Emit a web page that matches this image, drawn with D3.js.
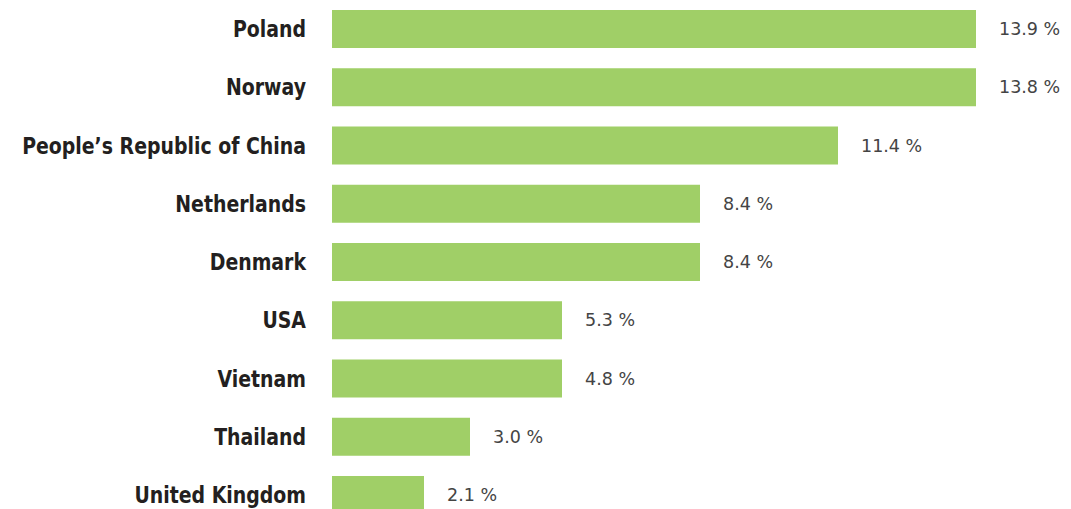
<!DOCTYPE html>
<html>
<head>
<meta charset="utf-8">
<script src="https://cdn.jsdelivr.net/npm/d3@7"></script>
<style>
  body { margin: 0; background: #fff; }
  svg { display: block; }
</style>
</head>
<body>
<div id="chart"></div>
<script>
const countries = ["Poland", "Norway", "People\u2019s Republic of China", "Netherlands", "Denmark", "USA", "Vietnam", "Thailand", "United Kingdom"];
const shares = [13.9, 13.8, 11.4, 8.4, 8.4, 5.3, 4.8, 3.0, 2.1];

const width = 1071, height = 509;

const svg = d3.select("#chart")
  .append("svg")
  .attr("width", width)
  .attr("height", height);

// bars are drawn from the rounded share (as in the original)
const x = d3.scaleLinear().domain([0, 14]).range([332, 976]);
const y = d3.scaleBand().domain(countries).range([10, 514]).paddingInner(0.3476).paddingOuter(0);

const data = countries.map((c, i) => ({country: c, share: shares[i]}));

svg.selectAll(".bar")
  .data(data)
  .enter()
  .append("rect")
  .attr("class", "bar")
  .attr("x", x(0))
  .attr("y", d => y(d.country))
  .attr("width", d => x(Math.round(d.share)) - x(0))
  .attr("height", y.bandwidth())
  .attr("fill", "#a0cf67");

// country labels (condensed font squeezed a bit more)
svg.selectAll(".name")
  .data(data)
  .enter()
  .append("text")
  .attr("class", "name")
  .attr("transform", d => `translate(306,${y(d.country) + y.bandwidth() / 2}) scale(0.914,1)`)
  .attr("dy", "0.35em")
  .attr("text-anchor", "end")
  .attr("font-family", "'DejaVu Sans Condensed', 'DejaVu Sans', sans-serif")
  .attr("font-stretch", "condensed")
  .attr("font-weight", "bold")
  .attr("font-size", "23px")
  .attr("fill", "#231f20")
  .text(d => d.country);

// values
svg.selectAll(".val")
  .data(data)
  .enter()
  .append("text")
  .attr("class", "val")
  .attr("x", d => x(Math.round(d.share)) + 23)
  .attr("y", d => y(d.country) + y.bandwidth() / 2)
  .attr("dy", "0.35em")
  .attr("font-family", "'DejaVu Sans', sans-serif")
  .attr("font-size", "17.5px")
  .attr("fill", "#444")
  .text(d => d.share.toFixed(1) + " %");
</script>
</body>
</html>
